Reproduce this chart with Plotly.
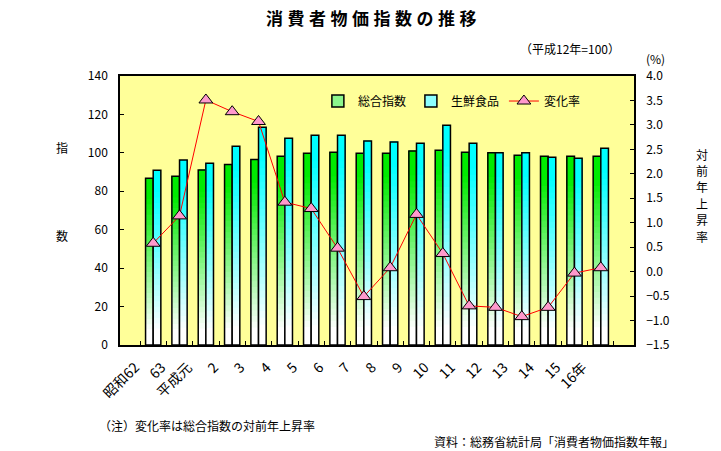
import plotly.graph_objects as go

categories = ["昭和62", "63", "平成元", "2", "3", "4", "5", "6", "7", "8",
              "9", "10", "11", "12", "13", "14", "15", "16年"]
sogo = [86.8, 87.8, 91.1, 94.0, 96.6, 98.2, 99.8, 100.3, 99.8, 99.8,
        101.0, 101.3, 100.3, 100.0, 98.7, 98.2, 98.2, 98.2]
seisen = [91.0, 96.3, 94.6, 103.4, 113.3, 107.6, 109.2, 109.2, 106.2, 105.7,
          105.0, 114.4, 105.0, 100.0, 100.0, 97.7, 97.2, 102.4]
henka = [0.58, 1.14, 3.51, 3.27, 3.07, 1.42, 1.29, 0.48, -0.51, 0.08,
         1.17, 0.37, -0.70, -0.73, -0.92, -0.73, -0.03, 0.08]

FONT = "Noto Sans CJK JP"
K = 32


def mix(c, t):
    return "rgb(%d,%d,%d)" % tuple(round(255 + (ci - 255) * t) for ci in c)


fig = go.Figure()
series = [("総合指数", sogo, (0, 235, 0), "a", 1),
          ("生鮮食品", seisen, (0, 255, 255), "b", 2)]
for name, vals, col, grp, rank in series:
    for j in range(K):
        t = (j + 0.5) / K
        tt = min(1.0, max(0.0, (t - 0.08) / 0.8))
        base = [v * j / K for v in vals]
        fig.add_trace(go.Bar(
            x=categories, y=[v - b for v, b in zip(vals, base)], base=base,
            offsetgroup=grp, marker=dict(color=mix(col, tt), line=dict(width=0)),
            showlegend=False, hoverinfo="skip"))
    fig.add_trace(go.Bar(
        x=categories, y=vals, offsetgroup=grp, name=name,
        marker=dict(color="rgba(0,0,0,0)", line=dict(color="black", width=1.5)),
        showlegend=False))
    fig.add_trace(go.Bar(
        x=categories, y=[None] * len(categories), offsetgroup=grp, name=name,
        marker=dict(color=mix(col, 0.45), line=dict(color="black", width=1.5)),
        showlegend=True, legendrank=rank))

fig.add_trace(go.Scatter(
    x=categories, y=henka, yaxis="y2", mode="lines+markers", name="変化率",
    line=dict(color="red", width=1),
    marker=dict(symbol="triangle-up", size=12, color="#FF99CC",
                line=dict(color="black", width=1)),
    legendrank=3))

fig.update_layout(
    width=721, height=451,
    margin=dict(l=120, r=87, t=76, b=106),
    paper_bgcolor="white", plot_bgcolor="#FFFF99",
    font=dict(family=FONT, size=12, color="black"),
    barmode="group", bargap=0.42, bargroupgap=0,
    showlegend=True,
    legend=dict(orientation="h", x=0.385, xanchor="left", y=0.907, yanchor="middle",
                bgcolor="rgba(0,0,0,0)", font=dict(size=12), traceorder="normal"),
    xaxis=dict(type="category", tickangle=-45, ticks="inside", tickson="boundaries",
               ticklen=4, tickcolor="black", showline=True, linecolor="black",
               linewidth=1.5, mirror=True, showgrid=False, tickfont=dict(size=14),
               ticklabelshift=-18, ticklabelstandoff=7),
    yaxis=dict(range=[0, 140], dtick=20, ticks="inside", ticklen=4, tickcolor="black",
               showline=True, linecolor="black", linewidth=1.5, showgrid=False,
               zeroline=False, tickfont=dict(size=12), ticklabelstandoff=8),
    yaxis2=dict(range=[-1.5, 4], dtick=0.5, tickformat=".1f", overlaying="y",
                side="right", ticks="inside", ticklen=4, tickcolor="black",
                showline=True, linecolor="black", linewidth=1.5, showgrid=False,
                zeroline=False, tickfont=dict(size=12), ticklabelstandoff=8),
)

ann = [
    dict(text='<span style="letter-spacing:4.5px">消費者物価指数の推移</span>',
         x=373, y=18, font=dict(size=17, weight="bold")),
    dict(text="（平成12年=100）", x=570, y=48, font=dict(size=12)),
    dict(text="(%)", x=655, y=59, font=dict(size=12)),
    dict(text="指", x=62, y=147, font=dict(size=12)),
    dict(text="数", x=62, y=235, font=dict(size=12)),
    dict(text="（注）変化率は総合指数の対前年上昇率", x=97, y=425, xanchor="left",
         font=dict(size=12)),
    dict(text="資料：総務省統計局「消費者物価指数年報」", x=676, y=441, xanchor="right",
         font=dict(size=12)),
]
for i, ch in enumerate("対前年上昇率"):
    ann.append(dict(text=ch, x=702, y=154 + i * 16.4, font=dict(size=12)))

for a in ann:
    xa = a.pop("xanchor", "center")
    fig.add_annotation(xref="paper", yref="paper", showarrow=False,
                       x=(a.pop("x") - 120) / 514, y=(345 - a.pop("y")) / 269,
                       xanchor=xa, yanchor="middle", **a)

fig.write_html("out.html", config={"displayModeBar": False},
               post_script="document.body.style.margin='0';")
